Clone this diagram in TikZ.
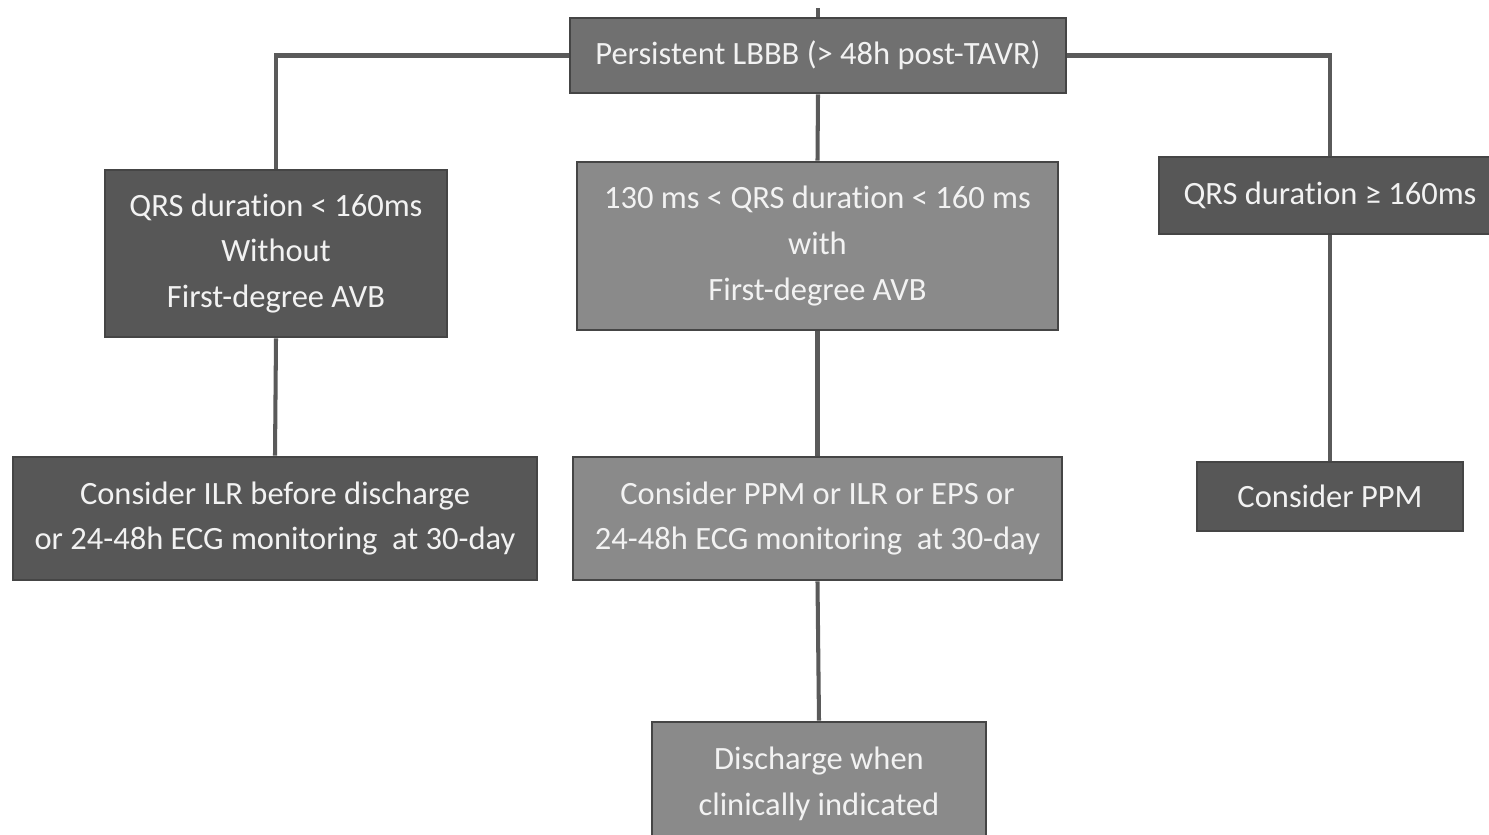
\documentclass[tikz,border=0pt]{standalone}
\usepackage{fontspec}
\setmainfont{Carlito}[Ligatures={NoCommon}]
\definecolor{darkbox}{HTML}{575757}
\definecolor{topbox}{HTML}{707070}
\definecolor{lightbox}{HTML}{8A8A8A}
\definecolor{boxline}{HTML}{454545}
\definecolor{conn}{HTML}{5A5A5A}
\definecolor{txt}{HTML}{F2F2F2}
\begin{document}
\begin{tikzpicture}[x=0.02cm,y=-0.02cm,
  box/.style={rectangle, draw=boxline, line width=1.6pt, text=txt, align=center,
    inner sep=0pt, font=\fontsize{18.5}{26}\selectfont},
  dark/.style={box, fill=darkbox},
  mid/.style={box, fill=topbox},
  light/.style={box, fill=lightbox},
  link/.style={draw=conn, line width=2.3pt}]
\clip (0,0) rectangle (1489,835);
\fill[white] (0,0) rectangle (1489,835);

\coordinate (tick) at (818,8);
\node[mid, minimum width=9.92cm, minimum height=1.5cm] (top) at (818,55.5)
  {Persistent LBBB (> 48h post-TAVR)};
\node[dark, minimum width=6.84cm, minimum height=3.34cm] (L1) at (276,253.5)
  {QRS duration < 160ms\\Without\\First-degree AVB};
\node[light, minimum width=9.62cm, minimum height=3.36cm] (M1) at (817.5,246)
  {130 ms < QRS duration < 160 ms\\with\\First-degree AVB};
\node[dark, minimum width=6.84cm, minimum height=1.54cm] (R1) at (1330,195.5)
  {\hspace*{-12pt}QRS duration ≥ 160ms\hspace*{-12pt}};
\node[dark, minimum width=10.48cm, minimum height=2.46cm] (L2) at (275,518.5)
  {Consider ILR before discharge\\or 24-48h ECG monitoring\ \ at 30-day};
\node[light, minimum width=9.78cm, minimum height=2.46cm] (M2) at (817.5,518.5)
  {Consider PPM or ILR or EPS or\\24-48h ECG monitoring\ \ at 30-day};
\node[dark, minimum width=5.32cm, minimum height=1.38cm] (R2) at (1330,496.5)
  {Consider PPM};
\node[light, minimum width=6.68cm, minimum height=2.48cm] (M3) at (819,784)
  {Discharge when\\clinically indicated};

\draw[link] (tick) -- (top.north);
\draw[link] (top.west) -| (L1.north);
\draw[link] (top.east) -| (R1.north);
\draw[link] (top.south) -- (M1.north);
\draw[link] (L1.south) -- (L2.north);
\draw[link] (M1.south) -- (M2.north);
\draw[link] (R1.south) -- (R2.north);
\draw[link] (M2.south) -- (M3.north);
\end{tikzpicture}
\end{document}
